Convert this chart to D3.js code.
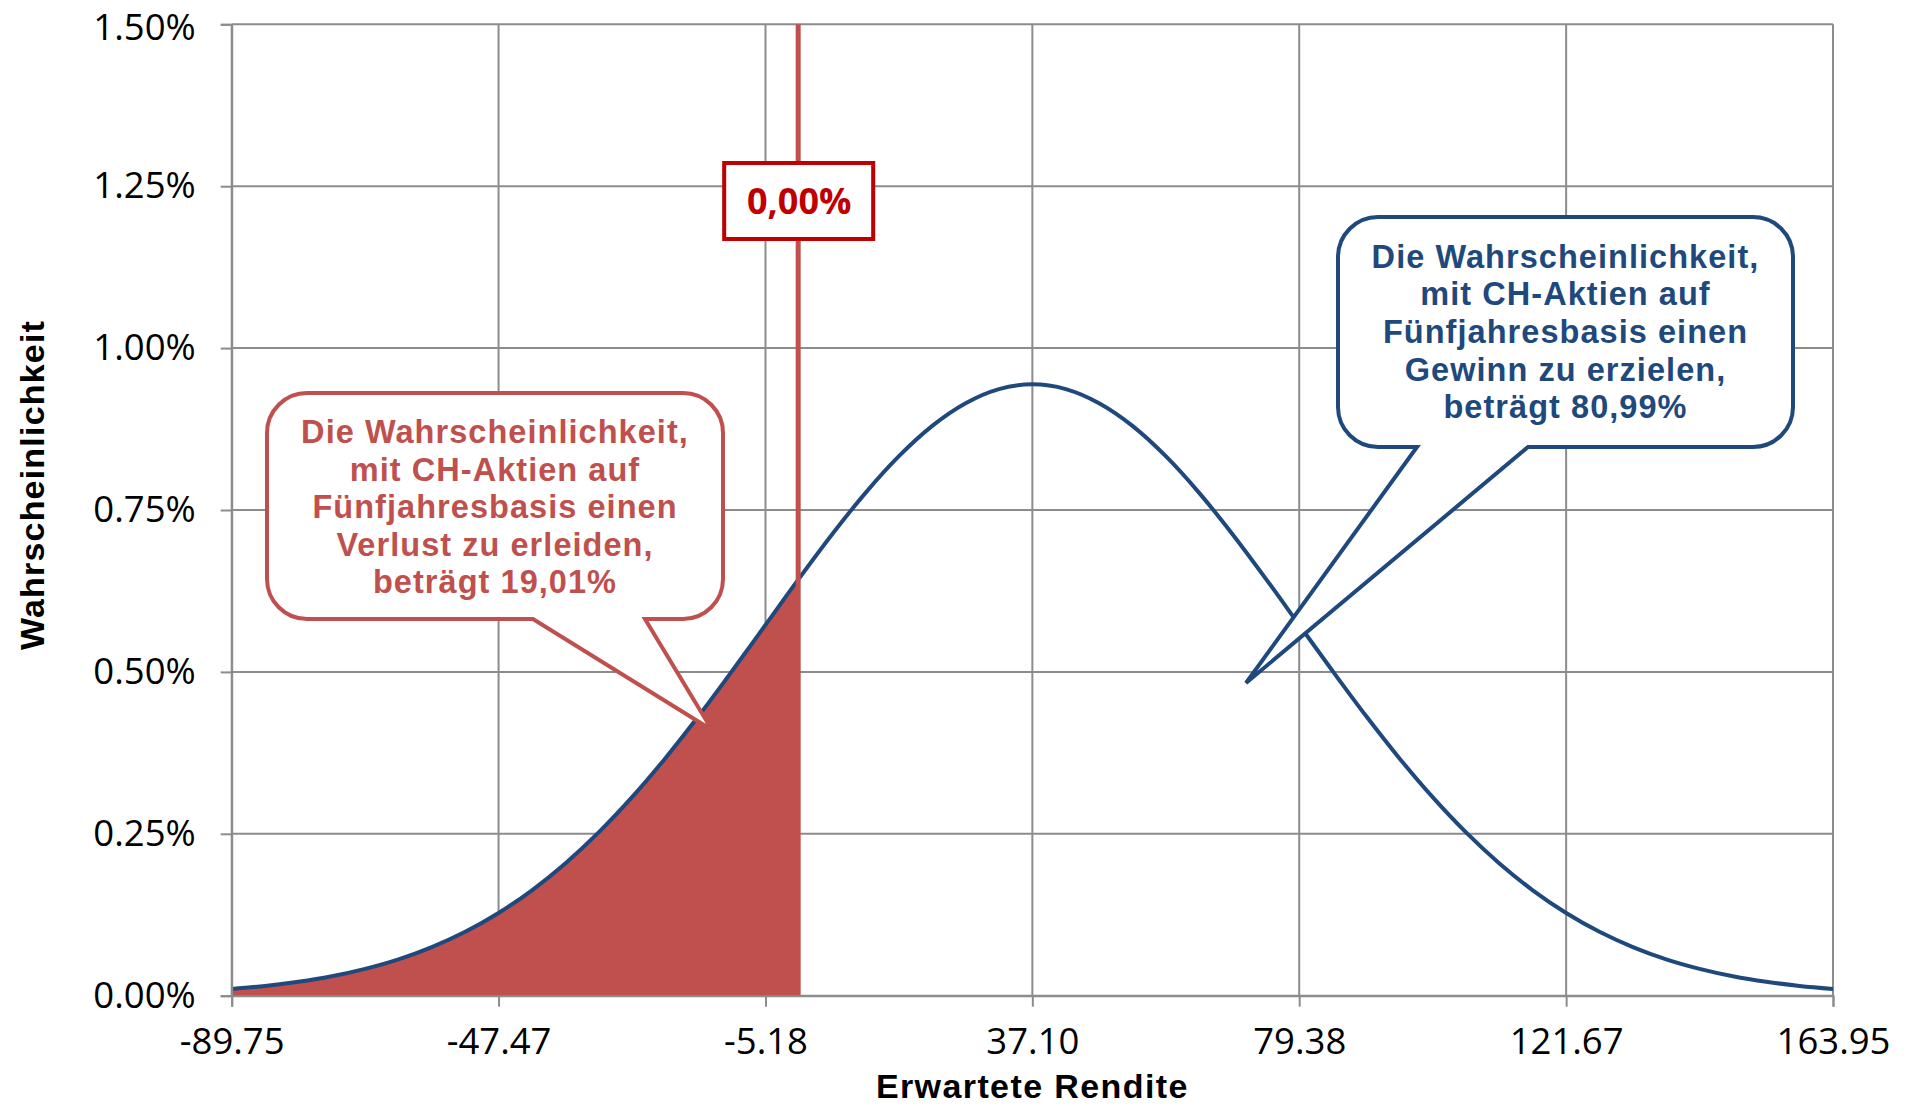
<!DOCTYPE html>
<html>
<head>
<meta charset="utf-8">
<script src="https://cdn.jsdelivr.net/npm/d3@7"></script>
<style>
  html, body { margin: 0; padding: 0; background: #fff; }
  svg { display: block; font-family: "Open Sans", "Noto Sans", sans-serif; }
</style>
</head>
<body>
<svg id="chart" width="1911" height="1106"></svg>
<script>
// ---- Data ----
// Expected return (x) and probability density in % (y)
const returns = [-89.75, -84.46, -79.18, -73.89, -68.61, -63.32, -58.04, -52.75, -47.47, -42.18,
  -36.90, -31.61, -26.32, -21.04, -15.75, -10.47, -5.18, 0.00, 5.39, 10.67,
  15.96, 21.24, 26.53, 31.81, 37.10, 42.39, 47.67, 52.96, 58.24, 63.53,
  68.81, 74.10, 79.38, 84.67, 89.95, 95.24, 100.52, 105.81, 111.10, 116.38,
  121.67, 126.95, 132.24, 137.52, 142.81, 148.09, 153.38, 158.66, 163.95];
const probability = [0.0105, 0.0151, 0.0215, 0.0301, 0.0415, 0.0562, 0.0751, 0.0987, 0.1278, 0.1628,
  0.2042, 0.2521, 0.3065, 0.3668, 0.4322, 0.5014, 0.5726, 0.6424, 0.7126, 0.7765,
  0.8331, 0.8799, 0.9149, 0.9367, 0.9440, 0.9367, 0.9149, 0.8799, 0.8331, 0.7765,
  0.7126, 0.6437, 0.5726, 0.5014, 0.4322, 0.3668, 0.3065, 0.2521, 0.2042, 0.1628,
  0.1278, 0.0987, 0.0751, 0.0562, 0.0415, 0.0301, 0.0215, 0.0151, 0.0105];
const xTicks = [-89.75, -47.47, -5.18, 37.10, 79.38, 121.67, 163.95];
const yTicks = [0, 0.25, 0.50, 0.75, 1.00, 1.25, 1.50];
const threshold = 0.00;          // break-even return
const thresholdLabel = "0,00%";
const lossText = ["Die Wahrscheinlichkeit,", "mit CH-Aktien auf", "Fünfjahresbasis einen", "Verlust zu erleiden,", "beträgt 19,01%"];
const gainText = ["Die Wahrscheinlichkeit,", "mit CH-Aktien auf", "Fünfjahresbasis einen", "Gewinn zu erzielen,", "beträgt 80,99%"];
const xTitle = "Erwartete Rendite";
const yTitle = "Wahrscheinlichkeit";

// ---- Layout ----
const L = 231.7, R = 1833, T = 24.3, B = 995.7;
const blue = "#1F497D", red = "#C0504D", darkRed = "#C00000", grid = "#8C8C8C";
const baseFont = "'Open Sans', 'Noto Sans', sans-serif";
const boldFont = "'Liberation Sans', Arial, sans-serif";

const svg = d3.select("#chart");
const x = d3.scaleLinear().domain([-89.75, 163.95]).range([L, R]);
const y = d3.scaleLinear().domain([0, 1.5]).range([B, T]);
const data = returns.map((r, i) => ({ r, p: probability[i] }));

// gridlines
svg.append("g").selectAll("line.h").data(yTicks).join("line")
  .attr("x1", L).attr("x2", R).attr("y1", d => y(d)).attr("y2", d => y(d))
  .attr("stroke", grid).attr("stroke-width", 2);
svg.append("g").selectAll("line.v").data(xTicks).join("line")
  .attr("y1", T).attr("y2", B).attr("x1", d => x(d)).attr("x2", d => x(d))
  .attr("stroke", grid).attr("stroke-width", 2);

// loss area
const lossData = data.filter(d => d.r <= threshold);
svg.append("path").datum(lossData)
  .attr("fill", red)
  .attr("d", d3.area().x(d => x(d.r)).y0(y(0)).y1(d => y(d.p)).curve(d3.curveMonotoneX));

// density curve
svg.append("path").datum(data)
  .attr("fill", "none").attr("stroke", blue).attr("stroke-width", 4)
  .attr("stroke-linejoin", "round")
  .attr("d", d3.line().x(d => x(d.r)).y(d => y(d.p)).curve(d3.curveMonotoneX));

// threshold line
svg.append("line")
  .attr("x1", x(threshold)).attr("x2", x(threshold))
  .attr("y1", T).attr("y2", B)
  .attr("stroke", red).attr("stroke-width", 5);

// axes
const yAxis = svg.append("g").attr("transform", `translate(${L},0)`)
  .call(d3.axisLeft(y).tickValues(yTicks).tickSize(11).tickPadding(25)
    .tickFormat(d => d.toFixed(2) + "%"));
const xAxis = svg.append("g").attr("transform", `translate(0,${B})`)
  .call(d3.axisBottom(x).tickValues(xTicks).tickSize(11).tickPadding(21)
    .tickFormat(d => d.toFixed(2)));
[yAxis, xAxis].forEach(g => {
  g.select(".domain").attr("stroke", grid).attr("stroke-width", 2);
  g.selectAll(".tick line").attr("stroke", grid).attr("stroke-width", 2);
  g.selectAll(".tick text").attr("fill", "#000")
    .style("font-family", baseFont).style("font-size", "36.5px");
});
// keep the top label inside the picture
yAxis.selectAll(".tick text").filter(d => d === 1.5).attr("dy", "0.42em");

// axis titles
svg.append("text").attr("x", (L + R) / 2).attr("y", 1098)
  .attr("text-anchor", "middle")
  .style("font-family", boldFont).style("font-size", "34px").style("font-weight", "bold")
  .style("letter-spacing", "1.4px")
  .text(xTitle);
svg.append("text").attr("transform", "translate(44,485) rotate(-90)")
  .attr("text-anchor", "middle")
  .style("font-family", boldFont).style("font-size", "34px").style("font-weight", "bold")
  .style("letter-spacing", "1.2px")
  .text(yTitle);

// callouts
function callout(x0, y0, x1, y1, r, b1, b2, tx, ty) {
  const p = d3.path();
  p.moveTo(x0 + r, y0);
  p.lineTo(x1 - r, y0);
  p.arcTo(x1, y0, x1, y0 + r, r);
  p.lineTo(x1, y1 - r);
  p.arcTo(x1, y1, x1 - r, y1, r);
  p.lineTo(b2, y1);
  p.lineTo(tx, ty);
  p.lineTo(b1, y1);
  p.lineTo(x0 + r, y1);
  p.arcTo(x0, y1, x0, y1 - r, r);
  p.lineTo(x0, y0 + r);
  p.arcTo(x0, y0, x0 + r, y0, r);
  p.closePath();
  return p.toString();
}
function drawCallout(box, color, lines, firstBase, step) {
  svg.append("path")
    .attr("d", callout(box.x0, box.y0, box.x1, box.y1, box.r, box.b1, box.b2, box.tx, box.ty))
    .attr("fill", "#fff").attr("stroke", color).attr("stroke-width", 4)
    .attr("stroke-linejoin", "miter");
  svg.append("g").selectAll("text").data(lines).join("text")
    .attr("x", (box.x0 + box.x1) / 2)
    .attr("y", (d, i) => firstBase + i * step)
    .attr("text-anchor", "middle")
    .style("font-family", boldFont).style("font-size", "32.5px").style("font-weight", "bold")
    .style("letter-spacing", "1.05px")
    .attr("fill", color).text(d => d);
}
drawCallout({ x0: 267, y0: 393, x1: 723, y1: 619, r: 40, b1: 533, b2: 645, tx: 712, ty: 730 },
  red, lossText, 443, 37.5);
drawCallout({ x0: 1338, y0: 217, x1: 1793, y1: 447, r: 40, b1: 1417, b2: 1528, tx: 1246, ty: 683 },
  blue, gainText, 267.5, 37.7);

// threshold label box
svg.append("rect").attr("x", x(threshold) - 74).attr("y", 163).attr("width", 149).attr("height", 76)
  .attr("fill", "#fff").attr("stroke", darkRed).attr("stroke-width", 4);
svg.append("text").attr("x", x(threshold) + 1).attr("y", 214)
  .attr("text-anchor", "middle")
  .style("font-family", baseFont).style("font-size", "36px").style("font-weight", "bold")
  .attr("fill", darkRed).text(thresholdLabel);
</script>
</body>
</html>
